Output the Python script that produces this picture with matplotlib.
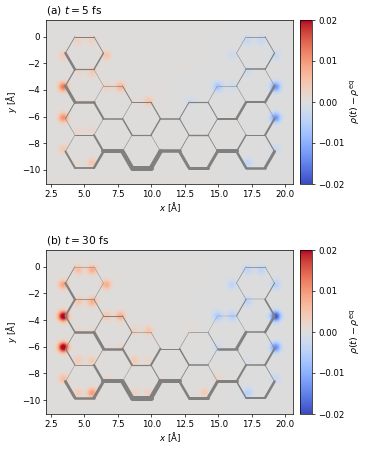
import numpy as np
import matplotlib
matplotlib.use('Agg')
import matplotlib.pyplot as plt

# bond lattice (where the grey lines are drawn)
atom_x = [4.29, 5.71, 17.07, 18.49,
          3.58, 6.42, 16.36, 19.2,
          4.29, 5.71, 17.07, 18.49,
          3.58, 6.42, 7.84, 14.94, 16.36, 19.2,
          4.29, 5.71, 8.55, 9.97, 12.81, 14.23, 17.07, 18.49,
          3.58, 6.42, 7.84, 10.68, 12.1, 14.94, 16.36, 19.2,
          4.29, 5.71, 8.55, 9.97, 12.81, 14.23, 17.07, 18.49,
          3.58, 6.42, 7.84, 10.68, 12.1, 14.94, 16.36, 19.2,
          4.29, 5.71, 8.55, 9.97, 12.81, 14.23, 17.07, 18.49]
atom_y = [0, 0, 0, 0,
          -1.23, -1.23, -1.23, -1.23,
          -2.46, -2.46, -2.46, -2.46,
          -3.69, -3.69, -3.69, -3.69, -3.69, -3.69,
          -4.92, -4.92, -4.92, -4.92, -4.92, -4.92, -4.92, -4.92,
          -6.15, -6.15, -6.15, -6.15, -6.15, -6.15, -6.15, -6.15,
          -7.38, -7.38, -7.38, -7.38, -7.38, -7.38, -7.38, -7.38,
          -8.61, -8.61, -8.61, -8.61, -8.61, -8.61, -8.61, -8.61,
          -9.84, -9.84, -9.84, -9.84, -9.84, -9.84, -9.84, -9.84]

# density sites (the blobs sit a bit off the bond lattice)
site_x = [4.54, 5.58, 17.24, 18.23,
          3.42, 6.65, 16.07, 19.33,
          4.54, 5.58, 17.24, 18.23,
          3.42, 6.65, 7.7, 15.0, 16.07, 19.33,
          4.54, 5.58, 8.74, 9.8, 12.95, 14.0, 17.24, 18.23,
          3.42, 6.65, 7.7, 10.85, 11.9, 15.0, 16.07, 19.33,
          4.54, 5.58, 8.74, 9.8, 12.95, 14.0, 17.24, 18.23,
          3.42, 6.65, 7.7, 10.85, 11.9, 15.0, 16.07, 19.33,
          4.54, 5.58, 8.74, 9.8, 12.95, 14.0, 17.24, 18.23]
site_y = [-0.27, -0.27, -0.27, -0.27,
          -1.38, -1.38, -1.38, -1.38,
          -2.65, -2.65, -2.65, -2.65,
          -3.75, -3.75, -3.75, -3.75, -3.75, -3.75,
          -4.85, -4.85, -4.85, -4.85, -4.85, -4.85, -4.85, -4.85,
          -6.08, -6.08, -6.08, -6.08, -6.08, -6.08, -6.08, -6.08,
          -7.08, -7.08, -7.08, -7.08, -7.08, -7.08, -7.08, -7.08,
          -8.43, -8.43, -8.43, -8.43, -8.43, -8.43, -8.43, -8.43,
          -9.5, -9.5, -9.5, -9.5, -9.5, -9.5, -9.5, -9.5]

rho_a = [.003, .003, -.003, -.003,
         .004, .005, -.002, -.003,
         .002, .004, -.002, 0,
         .013, .003, .007, -.007, -.002, -.013,
         .001, .001, .001, .005, -.002, 0, 0, 0,
         .011, 0, 0, 0, 0, 0, 0, -.013,
         .002, .002, 0, 0, 0, 0, 0, 0,
         .004, 0, 0, .001, 0, 0, 0, -.003,
         .001, .005, 0, 0, 0, 0, -.004, 0]
rho_b = [.006, .008, -.004, -.004,
         .009, .008, -.004, -.005,
         .005, .008, -.004, 0,
         .024, .005, .008, -.006, -.005, -.020,
         .002, .002, .003, .005, .001, 0, 0, 0,
         .024, .001, .002, 0, 0, -.002, 0, -.014,
         .004, .004, .004, .002, 0, 0, -.001, 0,
         .006, .002, 0, .001, 0, .002, 0, -.003,
         .004, .010, .003, .003, 0, .004, -.005, 0]

# bonds hexagon by hexagon: atom pair, then line width (px) in panel a / b
bond_i = [0, 1, 5, 9, 8, 4,
          9, 13, 19, 18, 12,
          19, 27, 35, 34, 26,
          35, 43, 51, 50, 42,
          13, 14, 20, 28,
          28, 36, 44,
          20, 21, 29, 37,
          37, 45, 53, 52,
          29, 30, 38, 46,
          22, 23, 31, 39, 30,
          39, 47, 55, 54,
          15, 16, 24, 32, 23,
          32, 40, 48,
          2, 3, 7, 11, 10, 6,
          11, 17, 25, 16,
          25, 33, 41,
          41, 49, 57, 56]
bond_j = [1, 5, 9, 8, 4, 0,
          13, 19, 18, 12, 8,
          27, 35, 34, 26, 18,
          43, 51, 50, 42, 34,
          14, 20, 28, 27,
          36, 44, 43,
          21, 29, 37, 36,
          45, 53, 52, 44,
          30, 38, 46, 45,
          23, 31, 39, 38, 22,
          47, 55, 54, 46,
          16, 24, 32, 31, 15,
          40, 48, 47,
          3, 7, 11, 10, 6, 2,
          17, 25, 24, 10,
          33, 41, 40,
          49, 57, 56, 48]
width_a = [1.0, 0.8, 1.5, 1.2, 2.5, 0.8,
           0.4, 0.4, 2.5, 3.0, 1.2,
           2.0, 0.5, 1.0, 0.5, 1.0,
           2.0, 2.5, 1.8, 2.0, 0.5,
           0.6, 1.0, 0.5, 1.5,
           1.5, 0.5, 4.0,
           1.0, 1.2, 1.4, 1.2,
           0.5, 4.5, 5.0, 4.5,
           1.5, 1.0, 0.8, 3.5,
           1.2, 1.0, 0.8, 1.4, 1.0,
           0.8, 3.0, 3.0, 3.0,
           0.5, 0.5, 2.5, 2.0, 0.5,
           0.5, 1.5, 4.0,
           0.7, 0.8, 1.2, 1.5, 0.5, 0.5,
           0.5, 2.5, 2.0, 0.8,
           0.5, 2.0, 1.0,
           1.2, 3.0, 2.5, 2.5]
width_b = [0.5, 0.4, 0.5, 0.7, 2.2, 0.8,
           0.8, 0.8, 2.5, 1.5, 2.0,
           3.0, 0.6, 0.8, 1.2, 0.7,
           2.3, 3.0, 2.5, 3.0, 0.4,
           1.0, 1.0, 1.0, 2.5,
           2.0, 0.4, 4.0,
           0.5, 0.5, 2.0, 1.2,
           1.0, 4.5, 5.0, 4.5,
           1.0, 1.5, 0.8, 4.0,
           0.6, 0.7, 0.5, 1.5, 0.5,
           0.5, 3.0, 3.0, 2.5,
           0.3, 0.4, 3.0, 2.5, 0.3,
           0.7, 2.0, 3.0,
           0.7, 0.5, 1.0, 0.4, 0.5, 0.6,
           1.7, 2.5, 1.5, 1.0,
           0.6, 2.0, 1.5,
           0.7, 2.5, 2.0, 1.5]

titles = ['(a) $t = 5$ fs', '(b) $t = 30$ fs']
DPI = 62
W, H = 366, 450


def density(gx, gy, rho, sigma=0.27):
    z = np.zeros_like(gx)
    for x0, y0, r in zip(site_x, site_y, rho):
        z += r * np.exp(-((gx - x0) ** 2 + (gy - y0) ** 2) / (2 * sigma ** 2))
    return z


fig = plt.figure(figsize=(W / DPI, H / DPI), dpi=DPI)
xlim = (2.15, 20.6)
ylim = (-11.05, 1.25)
gx, gy = np.meshgrid(np.linspace(*xlim, 300), np.linspace(*ylim, 200))

panels = [(20, 184, rho_a, width_a, titles[0]), (250, 414, rho_b, width_b, titles[1])]
for top, bottom, rho, widths, title in panels:
    ax = fig.add_axes([46.3 / W, 1 - bottom / H, 247 / W, (bottom - top) / H])
    im = ax.imshow(density(gx, gy, rho), origin='lower', extent=xlim + ylim, aspect='auto',
                   cmap='coolwarm', vmin=-0.02, vmax=0.02, interpolation='bilinear')
    for i, j, w in zip(bond_i, bond_j, widths):
        ax.plot([atom_x[i], atom_x[j]], [atom_y[i], atom_y[j]], color='grey',
                lw=w * 72 / DPI, solid_capstyle='round')
    ax.set_xlim(xlim)
    ax.set_ylim(ylim)
    ax.set_xticks([2.5, 5, 7.5, 10, 12.5, 15, 17.5, 20])
    ax.set_yticks([0, -2, -4, -6, -8, -10])
    ax.set_xlabel(r'$x$ [Å]', labelpad=2)
    ax.set_ylabel(r'$y$ [Å]')
    ax.set_title(title, loc='left', fontsize=12.3, pad=7.5)
    cax = fig.add_axes([299.7 / W, 1 - bottom / H, 12.5 / W, (bottom - top) / H])
    cb = fig.colorbar(im, cax=cax)
    cb.set_ticks([-0.02, -0.01, 0, 0.01, 0.02])
    cb.set_label(r'$\rho(t) - \rho^{\mathrm{eq}}$', fontsize=11)

fig.savefig('out.png', dpi=DPI)
